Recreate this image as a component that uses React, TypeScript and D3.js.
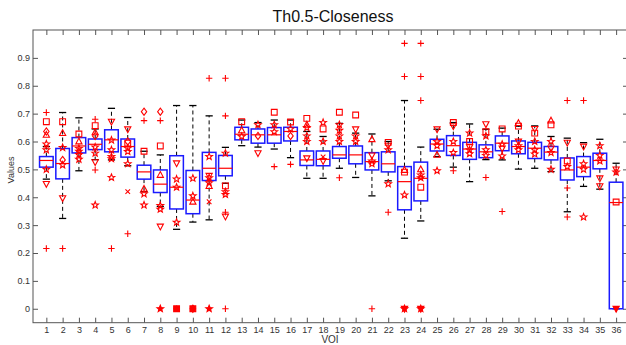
import React, { useRef, useEffect } from "react";
import * as d3 from "d3";

// 36 VOIs, box statistics
const vois = d3.range(1, 37);
const q1s = [0.508, 0.466, 0.559, 0.571, 0.563, 0.544, 0.465, 0.417, 0.358, 0.341, 0.46, 0.477, 0.606, 0.594, 0.594, 0.602, 0.514, 0.513, 0.54, 0.52, 0.498, 0.491, 0.355, 0.387, 0.566, 0.55, 0.536, 0.542, 0.567, 0.556, 0.539, 0.534, 0.462, 0.474, 0.502, 0];
const medians = [0.532, 0.521, 0.584, 0.59, 0.606, 0.582, 0.491, 0.447, 0.436, 0.39, 0.504, 0.504, 0.626, 0.624, 0.624, 0.636, 0.534, 0.536, 0.552, 0.552, 0.528, 0.52, 0.456, 0.468, 0.591, 0.585, 0.573, 0.563, 0.594, 0.582, 0.576, 0.562, 0.498, 0.508, 0.532, 0.381];
const q3s = [0.546, 0.575, 0.614, 0.609, 0.642, 0.609, 0.515, 0.498, 0.549, 0.496, 0.561, 0.55, 0.651, 0.645, 0.65, 0.651, 0.566, 0.566, 0.582, 0.584, 0.56, 0.563, 0.51, 0.526, 0.608, 0.621, 0.597, 0.588, 0.62, 0.602, 0.597, 0.582, 0.541, 0.546, 0.558, 0.454];
const whiskerLo = [0.465, 0.324, 0.495, 0.535, 0.534, 0.513, 0.42, 0.367, 0.285, 0.311, 0.319, 0.45, 0.585, 0.58, 0.573, 0.542, 0.468, 0.468, 0.504, 0.471, 0.405, 0.459, 0.253, 0.315, 0.546, 0.508, 0.456, 0.535, 0.534, 0.501, 0.504, 0.492, 0.348, 0.439, 0.429, 0];
const whiskerHi = [0.582, 0.704, 0.685, 0.645, 0.719, 0.686, 0.565, 0.552, 0.729, 0.729, 0.692, 0.579, 0.677, 0.668, 0.677, 0.677, 0.636, 0.618, 0.665, 0.63, 0.627, 0.6, 0.747, 0.58, 0.644, 0.668, 0.663, 0.644, 0.648, 0.655, 0.656, 0.618, 0.612, 0.596, 0.608, 0.522];

// individual values per VOI: [value, marker]
const markers: [number, string][][] = [
  [[0.704, "+"], [0.671, "s"], [0.636, "d"], [0.624, "^"], [0.591, "*"], [0.57, "*"], [0.5, "*"], [0.462, "o"], [0.452, "o"], [0.448, "v"], [0.216, "+"]],
  [[0.671, "s"], [0.63, "^"], [0.578, "*"], [0.534, "d"], [0.528, "o"], [0.516, "*"], [0.477, "o"], [0.397, "v"], [0.216, "+"]],
  [[0.627, "s"], [0.6, "^"], [0.585, "o"], [0.575, "*"], [0.565, "*"], [0.553, "*"], [0.536, "*"]],
  [[0.68, "+"], [0.657, "s"], [0.633, "^"], [0.62, "d"], [0.58, "*"], [0.558, "*"], [0.532, "o"], [0.526, "v"], [0.498, "+"], [0.372, "*"]],
  [[0.671, "v"], [0.605, "*"], [0.575, "o"], [0.57, "*"], [0.546, "*"], [0.538, "*"], [0.471, "*"], [0.216, "+"]],
  [[0.644, "v"], [0.6, "d"], [0.594, "s"], [0.576, "*"], [0.564, "*"], [0.52, "*"], [0.42, "x"], [0.269, "+"]],
  [[0.707, "d"], [0.675, "+"], [0.565, "s"], [0.438, "o"], [0.43, "^"], [0.42, "o"], [0.412, "*"], [0.372, "*"]],
  [[0.707, "d"], [0.675, "+"], [0.584, "s"], [0.48, "^"], [0.37, "*"], [0.357, "*"], [0.295, "v"], [0, "*"]],
  [[0.522, "v"], [0.465, "*"], [0.436, "*"], [0.331, "o"], [0.318, "o"], [0.31, "*"], [0, "s"], [0, "+"]],
  [[0.468, "*"], [0.436, "o"], [0.405, "*"], [0.384, "^"], [0, "s"], [0, "d"]],
  [[0.827, "+"], [0.546, "*"], [0.477, "v"], [0.47, "*"], [0.452, "*"], [0.44, "^"], [0.384, "x"], [0.241, "o"], [0, "*"]],
  [[0.827, "+"], [0.692, "+"], [0.558, "*"], [0.441, "s"], [0.42, "*"], [0.41, "*"], [0.346, "+"], [0.331, "v"], [0.315, "o"], [0, "+"]],
  [[0.671, "s"], [0.64, "^"], [0.63, "o"], [0.618, "*"], [0.514, "o"]],
  [[0.66, "*"], [0.635, "o"], [0.62, "d"], [0.558, "v"], [0.519, "o"]],
  [[0.705, "s"], [0.66, "*"], [0.635, "*"], [0.62, "o"], [0.546, "o"], [0.51, "+"]],
  [[0.67, "s"], [0.645, "*"], [0.63, "o"], [0.62, "d"], [0.584, "o"], [0.518, "+"]],
  [[0.683, "s"], [0.66, "^"], [0.65, "*"], [0.62, "*"], [0.6, "*"], [0.54, "v"], [0.53, "o"]],
  [[0.668, "*"], [0.655, "o"], [0.645, "s"], [0.6, "*"], [0.545, "x"], [0.53, "v"], [0.492, "o"]],
  [[0.705, "s"], [0.66, "*"], [0.64, "*"], [0.62, "*"], [0.6, "*"], [0.54, "o"], [0.47, "+"]],
  [[0.695, "s"], [0.644, "v"], [0.62, "*"], [0.6, "*"], [0.57, "o"], [0.506, "o"]],
  [[0.608, "^"], [0.55, "v"], [0.53, "*"], [0.52, "*"], [0.454, "o"], [0, "+"]],
  [[0.597, "s"], [0.585, "v"], [0.57, "*"], [0.448, "*"], [0.436, "o"], [0.346, "+"]],
  [[0.952, "+"], [0.833, "+"], [0.498, "^"], [0.49, "s"], [0.408, "*"], [0.349, "o"], [0.33, "o"], [0, "v"], [0, "*"]],
  [[0.952, "+"], [0.833, "+"], [0.747, "+"], [0.51, "o"], [0.5, "^"], [0.48, "*"], [0.47, "*"], [0.436, "s"], [0.329, "o"], [0, "v"], [0, "*"]],
  [[0.644, "v"], [0.6, "*"], [0.585, "*"], [0.552, "^"], [0.495, "*"]],
  [[0.668, "s"], [0.655, "v"], [0.62, "o"], [0.6, "*"], [0.56, "*"], [0.495, "+"], [0.472, "o"]],
  [[0.63, "*"], [0.6, "s"], [0.58, "v"], [0.57, "*"], [0.556, "*"], [0.516, "o"]],
  [[0.662, "v"], [0.635, "s"], [0.62, "*"], [0.57, "*"], [0.55, "*"], [0.52, "o"], [0.471, "+"]],
  [[0.645, "s"], [0.61, "o"], [0.59, "*"], [0.575, "v"], [0.548, "*"], [0.349, "+"]],
  [[0.666, "^"], [0.655, "s"], [0.6, "v"], [0.585, "*"], [0.57, "*"], [0.546, "o"], [0.436, "o"]],
  [[0.645, "v"], [0.63, "s"], [0.6, "*"], [0.57, "*"], [0.555, "*"], [0.504, "o"]],
  [[0.675, "^"], [0.66, "s"], [0.6, "*"], [0.575, "v"], [0.56, "*"], [0.5, "*"]],
  [[0.747, "+"], [0.596, "v"], [0.53, "s"], [0.51, "*"], [0.472, "o"], [0.433, "+"], [0.329, "+"]],
  [[0.747, "+"], [0.582, "v"], [0.52, "*"], [0.5, "*"], [0.49, "o"], [0.393, "o"], [0.329, "*"]],
  [[0.585, "*"], [0.55, "*"], [0.54, "o"], [0.53, "*"], [0.468, "v"], [0.44, "v"]],
  [[0.5, "v"], [0.49, "*"], [0.383, "s"], [0.375, "o"], [0, "v"]],
];

const yTicks = [0, 0.1, 0.2, 0.3, 0.4, 0.5, 0.6, 0.7, 0.8, 0.9];

const markerPath = (shape: string, cx: number, cy: number) => {
  switch (shape) {
    case "+":
      return `M${cx - 3.2},${cy}H${cx + 3.2}M${cx},${cy - 3.2}V${cy + 3.2}`;
    case "x":
      return `M${cx - 2.3},${cy - 2.3}L${cx + 2.3},${cy + 2.3}M${cx - 2.3},${cy + 2.3}L${cx + 2.3},${cy - 2.3}`;
    case "s":
      return `M${cx - 2.9},${cy - 2.9}h5.8v5.8h-5.8Z`;
    case "^":
      return `M${cx},${cy - 3.4}L${cx + 3.1},${cy + 2.4}L${cx - 3.1},${cy + 2.4}Z`;
    case "v":
      return `M${cx},${cy + 3.4}L${cx + 3.1},${cy - 2.4}L${cx - 3.1},${cy - 2.4}Z`;
    case "d":
      return `M${cx},${cy - 3.6}L${cx + 2.7},${cy}L${cx},${cy + 3.6}L${cx - 2.7},${cy}Z`;
    case "*": {
      const pts = d3.range(10).map((i) => {
        const r = i % 2 === 0 ? 3.5 : 1.5;
        const a = (i * Math.PI) / 5 - Math.PI / 2;
        return [cx + r * Math.cos(a), cy + r * Math.sin(a)];
      });
      return "M" + pts.map((p) => p.join(",")).join("L") + "Z";
    }
    default:
      return "";
  }
};

const App = () => {
  const chartRef = useRef<SVGSVGElement>(null);

  useEffect(() => {
    const svg = d3.select(chartRef.current);
    svg.selectAll("*").remove();

    const left = 33, right = 628, top = 30, bottom = 322.7;
    const x = d3.scaleLinear().domain([0.18, 36.73]).range([left, right]);
    const y = d3.scaleLinear().domain([-0.05, 1.0]).range([bottom, top]);

    svg.append("rect").attr("width", 626).attr("height", 345).attr("fill", "#fff");

    // title and labels
    svg.append("text")
      .attr("x", 333).attr("y", 22)
      .attr("text-anchor", "middle")
      .attr("font-size", 16)
      .attr("fill", "#111")
      .text("Th0.5-Closeness");
    svg.append("text")
      .attr("transform", `translate(14,170) rotate(-90)`)
      .attr("text-anchor", "middle")
      .attr("font-size", 9)
      .attr("fill", "#333")
      .text("Values");
    svg.append("text")
      .attr("x", 330).attr("y", 343)
      .attr("text-anchor", "middle")
      .attr("font-size", 10)
      .attr("fill", "#333")
      .text("VOI");

    const axisStyle = (g: any) => {
      g.select(".domain").remove();
      g.selectAll("line").attr("stroke", "#555");
      g.selectAll("text").attr("fill", "#333").attr("font-size", 9).attr("font-family", "Liberation Sans, Arial, sans-serif");
    };

    svg.append("g")
      .attr("transform", `translate(${left},0)`)
      .call(d3.axisLeft(y).tickValues(yTicks).tickSize(-5).tickPadding(3).tickFormat((d) => d3.format("")(d as number)))
      .call(axisStyle);
    svg.append("g")
      .attr("transform", `translate(${right},0)`)
      .call(d3.axisRight(y).tickValues(yTicks).tickSize(-5).tickFormat(() => ""))
      .call(axisStyle);
    svg.append("g")
      .attr("transform", `translate(0,${bottom})`)
      .call(d3.axisBottom(x).tickValues(vois).tickSize(-5).tickPadding(4).tickFormat(d3.format("d")))
      .call(axisStyle);
    svg.append("g")
      .attr("transform", `translate(0,${top})`)
      .call(d3.axisTop(x).tickValues(vois).tickSize(-5).tickFormat(() => ""))
      .call(axisStyle);

    svg.append("rect")
      .attr("x", left).attr("y", top)
      .attr("width", right - left).attr("height", bottom - top)
      .attr("fill", "none").attr("stroke", "#555");

    const halfBox = 6.8;
    const halfCap = 3.6;
    const g = svg.append("g");

    vois.forEach((v, i) => {
      const cx = x(v);
      // whiskers
      g.append("line")
        .attr("x1", cx).attr("x2", cx)
        .attr("y1", y(q3s[i])).attr("y2", y(whiskerHi[i]))
        .attr("stroke", "#000").attr("stroke-dasharray", "4,3");
      g.append("line")
        .attr("x1", cx).attr("x2", cx)
        .attr("y1", y(q1s[i])).attr("y2", y(whiskerLo[i]))
        .attr("stroke", "#000").attr("stroke-dasharray", "4,3");
      [whiskerHi[i], whiskerLo[i]].forEach((w) => {
        g.append("line")
          .attr("x1", cx - halfCap).attr("x2", cx + halfCap)
          .attr("y1", y(w)).attr("y2", y(w))
          .attr("stroke", "#000").attr("stroke-width", 1.3);
      });
      // box
      g.append("rect")
        .attr("x", cx - halfBox).attr("y", y(q3s[i]))
        .attr("width", halfBox * 2).attr("height", y(q1s[i]) - y(q3s[i]))
        .attr("fill", "none").attr("stroke", "#1a1aff").attr("stroke-width", 1.5);
      g.append("line")
        .attr("x1", cx - halfBox).attr("x2", cx + halfBox)
        .attr("y1", y(medians[i])).attr("y2", y(medians[i]))
        .attr("stroke", "#ff0000").attr("stroke-width", 1.2);
      // individual values (the ones piled at zero look solid)
      markers[i].forEach(([val, shape]) => {
        g.append("path")
          .attr("d", markerPath(shape, cx, y(val)))
          .attr("fill", val === 0 && shape !== "+" ? "#ff0000" : "none")
          .attr("stroke", "#ff0000")
          .attr("stroke-width", 1.1);
      });
    });
  }, []);

  return (
    <svg
      ref={chartRef}
      width={626}
      height={345}
      style={{ position: "absolute", left: 0, top: 0, fontFamily: "Liberation Sans, Arial, sans-serif" }}
    />
  );
};

export default App;
